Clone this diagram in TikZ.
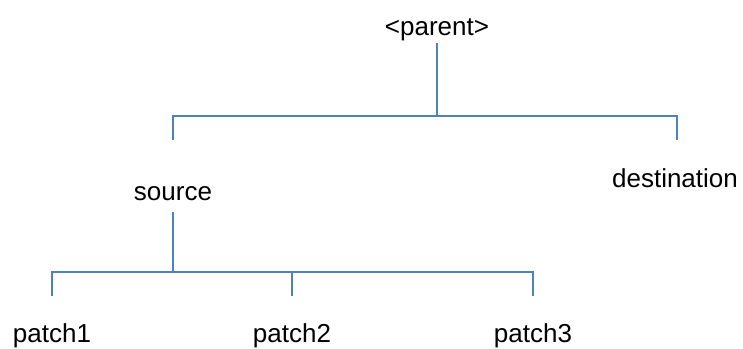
\documentclass[tikz,border=0pt]{standalone}
\usepackage{fontspec}
\setmainfont{Liberation Sans}
\definecolor{linkblue}{RGB}{79,129,189}

\begin{document}
\begin{tikzpicture}[x=1pt,y=-1pt,
  lbl/.style={anchor=base,inner sep=0pt,font=\fontsize{26}{31}\selectfont},
  branch/.style={draw=linkblue,line width=1.5pt}]
\useasboundingbox (0,0) rectangle (743,348);
\node[lbl] (parent) at (437,35) {<parent>};
\node[lbl] (source) at (173,200) {source};
\node[lbl] (dest) at (675,187) {destination};
\foreach \x/\n in {52/1,292/2,533/3} \node[lbl] (patch\n) at (\x,342) {patch\n};
\coordinate (pbar) at (437,116);
\coordinate (sbar) at (173,272);
\draw[branch] ([yshift=-8pt]parent.base) -- (pbar);
\draw[branch] ([yshift=60pt]source.base) |- (pbar) -| ([xshift=2pt,yshift=47pt]dest.base);
\draw[branch] ([yshift=-12pt]source.base) -- (sbar);
\draw[branch] ([yshift=46pt]patch1.base) |- (sbar) -| ([yshift=46pt]patch3.base);
\draw[branch] ([yshift=46pt]patch2.base) -- ([yshift=70pt]patch2.base);
\end{tikzpicture}
\end{document}
